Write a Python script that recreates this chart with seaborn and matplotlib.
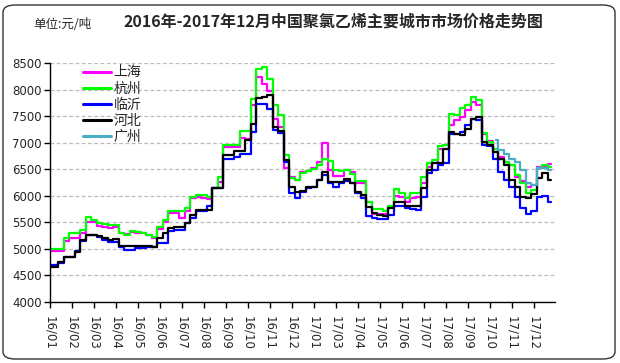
import numpy as np
import pandas as pd
import matplotlib
matplotlib.use("Agg")
import matplotlib.pyplot as plt
from matplotlib.patches import FancyBboxPatch
import seaborn as sns

# ---- data (4 samples per month interval) ----
tick_labels = ["16/01", "16/02", "16/03", "16/04", "16/05", "16/06", "16/07", "16/08",
               "16/09", "16/10", "16/11", "16/12", "17/01", "17/03", "17/04", "17/05",
               "17/06", "17/07", "17/08", "17/09", "17/10", "17/11", "17/12"]

shanghai = [4955, 4955, 4955, 5140, 5205, 5205, 5300, 5500, 5500, 5435, 5405, 5390,
            5420, 5300, 5280, 5320, 5300, 5290, 5270, 5205, 5375, 5515, 5670, 5670,
            5590, 5705, 5955, 5985, 5955, 5940, 6140, 6265, 6920, 6920, 6920, 7090,
            7065, 7700, 8230, 8105, 7980, 7450, 7295, 6515, 6360, 6300,
            6440, 6465, 6515, 6630, 6985, 6490, 6380, 6380, 6490, 6440, 6235, 6235,
            5890, 5655, 5655, 5655, 5800, 6005, 5985, 5890, 5965, 5985, 6235, 6545,
            6610, 6880, 6890, 7325, 7420, 7485, 7610, 7765, 7700, 7170, 7030, 6890,
            6735, 6640, 6580, 6360, 6280, 6170, 6200, 6545, 6545, 6590]

hangzhou = [5000, 5000, 5000, 5205, 5290, 5290, 5360, 5600, 5550, 5490, 5470, 5455,
            5455, 5300, 5270, 5330, 5320, 5300, 5270, 5220, 5420, 5550, 5705, 5705,
            5705, 5770, 5985, 6015, 6015, 5985, 6155, 6360, 6950, 6950, 6950, 7215,
            7215, 7825, 8390, 8420, 8200, 7700, 7515, 6765, 6330, 6300,
            6420, 6465, 6500, 6580, 6690, 6650, 6490, 6465, 6490, 6410, 6280, 6280,
            5890, 5755, 5755, 5715, 5800, 6130, 6050, 5965, 6050, 6060, 6360, 6610,
            6675, 6940, 6950, 7545, 7515, 7650, 7700, 7855, 7795, 7190, 7005, 6890,
            6700, 6640, 6580, 6390, 6235, 6050, 6100, 6520, 6580, 6550]

linyi = [4690, 4690, 4740, 4845, 4845, 4955, 5140, 5270, 5270, 5220, 5175, 5130,
         5130, 5030, 4975, 4985, 5020, 5020, 5030, 5030, 5110, 5110, 5330, 5350,
         5350, 5490, 5580, 5715, 5715, 5800, 6140, 6140, 6700, 6700, 6735, 6785,
         6785, 7200, 7730, 7730, 7640, 7235, 7190, 6640, 6050, 5955,
         6080, 6140, 6160, 6300, 6400, 6235, 6170, 6235, 6280, 6235, 6050, 5955,
         5610, 5590, 5565, 5565, 5640, 5800, 5800, 5770, 5755, 5735, 5985, 6420,
         6490, 6580, 6610, 7170, 7170, 7200, 7325, 7450, 7420, 6950, 6940, 6700,
         6450, 6300, 6170, 5985, 5770, 5655, 5705, 5985, 6005, 5890]

hebei = [4660, 4660, 4755, 4845, 4845, 4945, 5160, 5270, 5270, 5250, 5205, 5160,
         5190, 5060, 5050, 5050, 5060, 5060, 5060, 5030, 5205, 5300, 5390, 5405,
         5405, 5490, 5630, 5735, 5735, 5735, 6140, 6140, 6765, 6765, 6840, 6845,
         7045, 7360, 7840, 7860, 7900, 7295, 7215, 6670, 6170, 6080,
         6090, 6160, 6170, 6300, 6455, 6265, 6255, 6265, 6315, 6235, 6080, 6015,
         5785, 5670, 5640, 5620, 5770, 5875, 5880, 5800, 5800, 5800, 6140, 6490,
         6610, 6610, 6890, 7200, 7170, 7150, 7250, 7450, 7485, 7005, 6965, 6830,
         6690, 6580, 6300, 6170, 5985, 5955, 6030, 6330, 6420, 6300]

guangzhou_start = 81
guangzhou = [7045, 6860, 6795, 6700, 6640, 6490, 6235, 6200, 6520, 6530, 6490]

series_names = ["上海", "杭州", "临沂", "河北", "广州"]
series_colors = ["#FF00FF", "#00FF00", "#0000FF", "#000000", "#4BACC6"]

# ---- build long-form table ----
frames = []
for name, vals, start in [("上海", shanghai, 0), ("杭州", hangzhou, 0),
                          ("临沂", linyi, 0), ("河北", hebei, 0),
                          ("广州", guangzhou, guangzhou_start)]:
    idx = np.arange(start, start + len(vals))
    frames.append(pd.DataFrame({"t": idx * 0.25, "price": vals, "city": name}))
df = pd.concat(frames, ignore_index=True)

# ---- plot ----
sns.set_style("white")
plt.rcParams["font.family"] = ["Noto Sans CJK SC", "DejaVu Sans"]

fig = plt.figure(figsize=(6.2, 3.63), dpi=100)
ax = fig.add_axes([50 / 620, 1 - 302 / 363, 505 / 620, 239 / 363])

sns.lineplot(data=df, x="t", y="price", hue="city", hue_order=series_names,
             palette=dict(zip(series_names, series_colors)), ax=ax,
             linewidth=1.6, drawstyle="steps-mid", legend=True, sort=False)

ax.set_xlim(0, 22.95)
ax.set_ylim(4000, 8500)
ax.set_yticks(np.arange(4000, 8501, 500))
ax.set_yticklabels([str(v) for v in range(4000, 8501, 500)], fontsize=8.5,
                   family=["DejaVu Sans"])
ax.set_xticks(np.arange(len(tick_labels)))
ax.set_xticklabels(tick_labels, rotation=-90, fontsize=8.5, family=["DejaVu Sans"])
ax.set_xlabel("")
ax.set_ylabel("")
ax.grid(axis="y", color="#BBBBBB", linestyle=(0, (3, 2)), linewidth=0.9)
ax.grid(axis="x", visible=False)
for s in ["top", "right"]:
    ax.spines[s].set_visible(False)
for s in ["left", "bottom"]:
    ax.spines[s].set_color("black")
    ax.spines[s].set_linewidth(1.0)
ax.tick_params(axis="both", direction="out", length=4, width=1, color="black",
               left=True, bottom=True, pad=2)
ax.tick_params(axis="x", pad=6)

leg = ax.legend(loc="upper left", bbox_to_anchor=(0.065, 0.99), frameon=False,
                fontsize=10, handlelength=2.0, handletextpad=0.2,
                labelspacing=0.15, borderpad=0, borderaxespad=0)
for line in leg.get_lines():
    line.set_linewidth(2.2)

fig.text(333 / 620, 1 - 22 / 363, "2016年-2017年12月中国聚氯乙烯主要城市市场价格走势图",
         ha="center", va="center", fontsize=11.5, fontweight="bold")
fig.text(62 / 620, 1 - 24 / 363, "单位:元/吨", ha="center", va="center", fontsize=9)

border = FancyBboxPatch((3 / 620, 4 / 363), 612 / 620, 354 / 363,
                        boxstyle="round,pad=0,rounding_size=0.02",
                        transform=fig.transFigure, fill=False,
                        edgecolor="#333333", linewidth=1.0)
fig.patches.append(border)

fig.savefig("out.png", dpi=100)
